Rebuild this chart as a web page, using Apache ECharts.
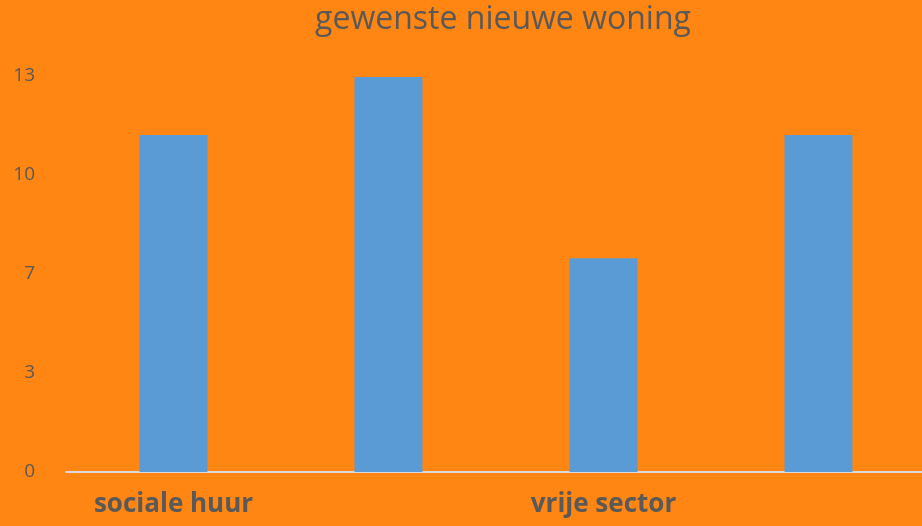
<!DOCTYPE html>
<html>
<head>
<meta charset="utf-8">
<script src="https://cdn.jsdelivr.net/npm/echarts@6/dist/echarts.min.js"></script>
<style>
  html, body { margin: 0; padding: 0; background: #ff8612; overflow: hidden; }
  /* iets breder dan het venster: de as loopt door tot voorbij de rechterrand */
  #chart { width: 930px; height: 526px; }
</style>
</head>
<body>
<div id="chart"></div>
<script>
// categorieën (alleen 1e en 3e hebben een label)
const categories = ["sociale huur", "", "vrije sector", ""];
const values = [11.35, 13.3, 7.2, 11.35];
const yMax = 40 / 3;
const yStep = 10 / 3;

const chart = echarts.init(document.getElementById("chart"));
chart.setOption({
  backgroundColor: "#ff8612",
  animation: false,
  title: {
    text: "gewenste nieuwe woning",
    left: 498,
    textAlign: "center",
    top: -1,
    textStyle: {
      fontFamily: "Open Sans",
      fontWeight: "normal",
      fontSize: 32,
      color: "#595959",
    },
  },
  grid: {
    left: 66,
    width: 860,
    top: 76,
    bottom: 54,
  },
  xAxis: {
    type: "category",
    data: categories,
    axisLine: { lineStyle: { color: "#d9d9d9", width: 2 } },
    axisTick: { show: false },
    axisLabel: {
      interval: 0,
      margin: 20,
      fontFamily: "Open Sans",
      fontWeight: "bold",
      fontSize: 26,
      color: "#595959",
    },
  },
  yAxis: {
    type: "value",
    min: 0,
    max: yMax,
    interval: yStep,
    splitLine: { show: false },
    axisLine: { show: false },
    axisTick: { show: false },
    axisLabel: {
      margin: 31,
      fontFamily: "Open Sans",
      fontSize: 19,
      color: "#595959",
      formatter: (v) => Math.round(v),
    },
  },
  series: [
    {
      type: "bar",
      data: values,
      barWidth: "31.6%",
      itemStyle: { color: "#5b9bd5" },
    },
  ],
});
</script>
</body>
</html>
